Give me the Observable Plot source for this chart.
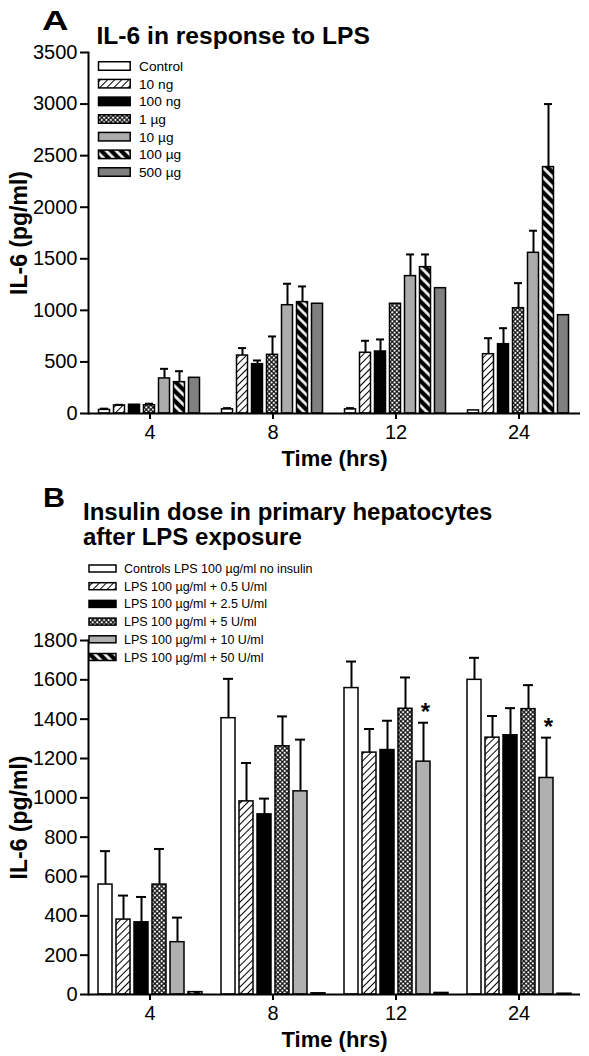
<!DOCTYPE html>
<html><head><meta charset="utf-8">
<script src="https://cdn.jsdelivr.net/npm/d3@7"></script>
<script src="https://cdn.jsdelivr.net/npm/@observablehq/plot@0.6"></script>
<style>
html,body{margin:0;padding:0;background:#fff;}
body{width:589px;height:1056px;position:relative;overflow:hidden;font-family:"Liberation Sans",Arial,Helvetica,sans-serif;}
#a,#b,#overlay{position:absolute;left:0;}
#a{top:0px;}
#b{top:470px;}
#overlay{top:0px;pointer-events:none;}
svg g[aria-label="y-axis label"] text{font-size:23px;font-weight:bold;}
svg g[aria-label="fx-axis label"] text{font-size:22px;font-weight:bold;}
</style></head><body>
<svg width="0" height="0" style="position:absolute;left:0;top:0">
<defs>
 <pattern id="hatchFwd" patternUnits="userSpaceOnUse" width="5" height="5" patternTransform="rotate(45)">
   <rect width="5" height="5" fill="white"/>
   <line x1="2.5" y1="0" x2="2.5" y2="5" stroke="black" stroke-width="1"/>
 </pattern>
 <pattern id="hatchBack" patternUnits="userSpaceOnUse" width="7" height="7" patternTransform="rotate(-45)">
   <rect width="7" height="7" fill="black"/>
   <line x1="3.5" y1="0" x2="3.5" y2="7" stroke="white" stroke-width="2.6"/>
 </pattern>
 <pattern id="cross" patternUnits="userSpaceOnUse" width="3.2" height="3.2" patternTransform="rotate(45)">
   <rect width="3.2" height="3.2" fill="white"/>
   <line x1="1.6" y1="0" x2="1.6" y2="3.2" stroke="black" stroke-width="1.15"/>
   <line x1="0" y1="1.6" x2="3.2" y2="1.6" stroke="black" stroke-width="1.15"/>
 </pattern>
</defs></svg>
<div id="a"></div>
<div id="b"></div>
<svg id="overlay" width="589" height="1056"></svg>
<script>
const FONT = '"Liberation Sans", Arial, Helvetica, sans-serif';
const times = ["4", "8", "12", "24"];

// ---------- Panel A: IL-6 in response to LPS ----------
const seriesA = ["Control", "10 ng", "100 ng", "1 µg", "10 µg", "100 µg", "500 µg"];
const fillsA = ["white", "url(#hatchFwd)", "black", "url(#cross)", "#acacac", "url(#hatchBack)", "#808080"];
const a_control     = [35, 40, 40, 30];
const a_control_sd  = [12, 12, 12, null];
const a_10ng        = [78, 562, 589, 575];
const a_10ng_sd     = [6, 72, 116, 155];
const a_100ng       = [85, 478, 601, 672];
const a_100ng_sd    = [null, 36, 117, 155];
const a_1ug         = [80, 569, 1064, 1021];
const a_1ug_sd      = [15, 178, null, 243];
const a_10ug        = [340, 1050, 1332, 1558];
const a_10ug_sd     = [93, 208, 210, 214];
const a_100ug       = [304, 1080, 1419, 2389];
const a_100ug_sd    = [106, 152, 123, 611];
const a_500ug       = [346, 1064, 1215, 953];
const a_500ug_sd    = [null, null, null, null];
const yTicksA = [0, 500, 1000, 1500, 2000, 2500, 3000, 3500];

// ---------- Panel B: Insulin dose ----------
const seriesB = ["Controls LPS 100 µg/ml no insulin", "LPS 100 µg/ml + 0.5 U/ml", "LPS 100 µg/ml + 2.5 U/ml", "LPS 100 µg/ml + 5 U/ml", "LPS 100 µg/ml + 10 U/ml", "LPS 100 µg/ml + 50 U/ml"];
const fillsB = ["white", "url(#hatchFwd)", "black", "url(#cross)", "#b0b0b0", "url(#hatchBack)"];
const b_control     = [559, 1405, 1558, 1600];
const b_control_sd  = [170, 200, 135, 112];
const b_05          = [381, 982, 1230, 1306];
const b_05_sd       = [122, 195, 120, 110];
const b_25          = [367, 916, 1243, 1318];
const b_25_sd       = [129, 80, 149, 138];
const b_5           = [559, 1262, 1453, 1451];
const b_5_sd        = [181, 152, 159, 122];
const b_10          = [266, 1033, 1184, 1101];
const b_10_sd       = [125, 263, 198, 205];
const b_50          = [12, 6, 8, 4];
const b_50_sd       = [null, null, null, null];
const b_10_star     = [null, null, "*", "*"];
const yTicksB = [0, 200, 400, 600, 800, 1000, 1200, 1400, 1600, 1800];

function rows(series, means, sds, stars) {
  const out = [];
  series.forEach((s, i) => times.forEach((t, j) => out.push({
    series: s, time: t, value: means[i][j], err: sds[i][j],
    star: stars[i] ? stars[i][j] : null
  })));
  return out;
}
const dataA = rows(seriesA,
  [a_control, a_10ng, a_100ng, a_1ug, a_10ug, a_100ug, a_500ug],
  [a_control_sd, a_10ng_sd, a_100ng_sd, a_1ug_sd, a_10ug_sd, a_100ug_sd, a_500ug_sd],
  []);
const dataB = rows(seriesB,
  [b_control, b_05, b_25, b_5, b_10, b_50],
  [b_control_sd, b_05_sd, b_25_sd, b_5_sd, b_10_sd, b_50_sd],
  [null, null, null, null, b_10_star, null]);

function chart(data, series, fills, yMax, yTicks, dims, inner, outer, capInset) {
  const withErr = data.filter(d => d.err != null);
  return Plot.plot({
    width: 589, height: dims.height,
    marginTop: dims.top, marginBottom: dims.bottom, marginLeft: dims.left, marginRight: dims.right,
    style: {fontFamily: FONT, color: "black", background: "transparent", overflow: "visible"},
    fx: {domain: times, padding: 0, axis: null},
    x: {domain: series, paddingInner: inner, paddingOuter: outer, axis: null},
    y: {domain: [0, yMax], axis: null},
    color: {domain: series, range: fills},
    marks: [
      Plot.barY(data, {fx: "time", x: "series", y: "value", fill: "series", stroke: "black", strokeWidth: 1.5}),
      Plot.ruleX(withErr, {fx: "time", x: "series", y1: "value", y2: d => d.value + d.err, stroke: "black", strokeWidth: 2}),
      Plot.tickY(withErr, {fx: "time", x: "series", y: d => d.value + d.err, stroke: "black", strokeWidth: 2, insetLeft: capInset, insetRight: capInset}),
      Plot.text(data.filter(d => d.star), {fx: "time", x: "series", y: d => d.value + d.err, text: "star", dy: -10, dx: 2, fontSize: 24, fontWeight: "bold"}),
      Plot.ruleY([0], {stroke: "black", strokeWidth: 2}),
      Plot.frame({anchor: "left", facetAnchor: "left", stroke: "black", strokeWidth: 2}),
      Plot.axisY({ticks: yTicks, tickFormat: d => String(d), tickSize: 8, tickPadding: 3, strokeWidth: 2, fontSize: 20,
        label: "IL-6 (pg/ml)", labelAnchor: "center", labelOffset: dims.left - 9, labelArrow: "none"}),
      Plot.axisFx({anchor: "bottom", tickSize: 6, tickPadding: 5, strokeWidth: 2, fontSize: 20,
        label: "Time (hrs)", labelAnchor: "center", labelOffset: 52, labelArrow: "none"})
    ]
  });
}

document.getElementById("a").append(
  chart(dataA, seriesA, fillsA, 3500, yTicksA, {height: 480, top: 52, bottom: 67, left: 86.5, right: 7.5}, 0.234, 0.566, 1.5));
document.getElementById("b").append(
  chart(dataB, seriesB, fillsB, 1800, yTicksB, {height: 586, top: 170, bottom: 62, left: 87, right: 9}, 0.24, 0.469, 2));

// ---------- titles and legends ----------
const ov = d3.select("#overlay").style("font-family", FONT);
function txt(x, y, s, size, bold, len) {
  const t = ov.append("text").attr("x", x).attr("y", y).attr("font-size", size)
    .attr("font-weight", bold ? "bold" : "normal").attr("fill", "black").text(s);
  if (len) t.attr("textLength", len).attr("lengthAdjust", "spacingAndGlyphs");
  return t;
}
txt(42, 30, "A", 28, true, 26.5);
txt(96.5, 43.5, "IL-6 in response to LPS", 24.6, true);
txt(43, 507, "B", 27, true, 22);
txt(83, 519.5, "Insulin dose in primary hepatocytes", 24, true);
txt(83, 545, "after LPS exposure", 24, true);

function legend(series, fills, x0, y0, dy, sw, sh, tx, fs) {
  const g = ov.append("g");
  series.forEach((s, i) => {
    const cy = y0 + i * dy;
    g.append("rect").attr("x", x0).attr("y", cy - sh / 2).attr("width", sw).attr("height", sh)
      .attr("fill", fills[i]).attr("stroke", "black").attr("stroke-width", 1.5);
    g.append("text").attr("x", tx).attr("y", cy).attr("dy", "0.36em").attr("font-size", fs).attr("fill", "black").text(s);
  });
}
legend(seriesA, fillsA, 98.5, 66, 17.67, 31.7, 8.5, 139, 13.7);
legend(seriesB, fillsB, 89, 568.5, 17.7, 27, 7, 124, 12.5);
</script>
</body></html>
